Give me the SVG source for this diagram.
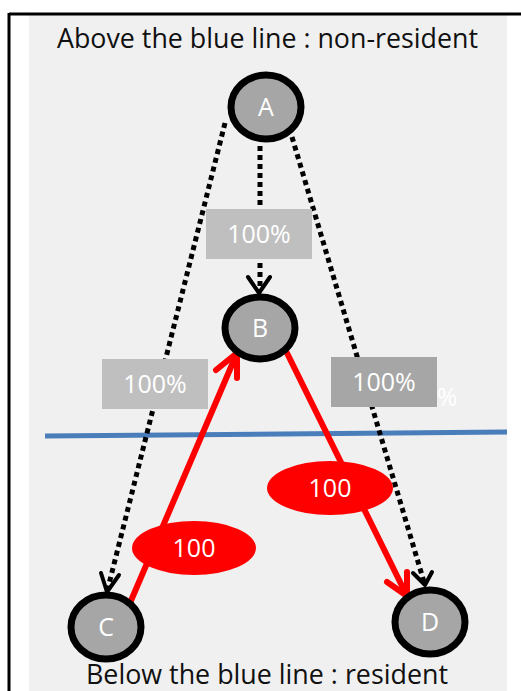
<svg xmlns="http://www.w3.org/2000/svg" width="521" height="691" viewBox="0 0 521 691">
  <style>
    .title { font-family: "Open Sans", "Liberation Sans", sans-serif; font-size: 27px; fill: #111; }
    .node ellipse { fill: #a6a6a6; stroke: #000; stroke-width: 7; }
    .node text { font-family: "Open Sans", "Liberation Sans", sans-serif; font-size: 25px; fill: #fff; text-anchor: middle; }
    .dot { stroke: #000; stroke-width: 5; stroke-dasharray: 5 4; fill: none; }
    .dothead { stroke: #000; stroke-width: 4; fill: none; stroke-linecap: round; stroke-linejoin: round; }
    .flow { stroke: #ff0000; stroke-width: 6; fill: none; stroke-linecap: round; stroke-linejoin: round; }
    .lbl { font-family: "Open Sans", "Liberation Sans", sans-serif; font-size: 25px; fill: #fff; text-anchor: middle; }
  </style>

  <!-- frame and panel -->
  <rect x="0" y="0" width="521" height="691" fill="#fff"/>
  <rect x="29" y="15" width="478" height="676" fill="#f0f0f0"/>
  <line x1="9" y1="14" x2="521" y2="14" stroke="#000" stroke-width="3"/>
  <line x1="9" y1="13" x2="9" y2="691" stroke="#000" stroke-width="3"/>

  <text class="title" x="57" y="48" textLength="421" lengthAdjust="spacingAndGlyphs">Above the blue line : non-resident</text>
  <text class="title" x="86" y="684" textLength="362" lengthAdjust="spacingAndGlyphs">Below the blue line : resident</text>

  <!-- residency boundary -->
  <line x1="45" y1="436" x2="507" y2="432" stroke="#4a7ebb" stroke-width="5"/>

  <g id="connectors">
    <!-- ownership links from A -->
    <line class="dot" x1="260" y1="146" x2="260" y2="290"/>
    <polyline class="dothead" points="248,277 259,293 270,277"/>
    <line class="dot" x1="225" y1="123" x2="108" y2="588"/>
    <polyline class="dothead" points="101,573 107,592 119,575"/>
    <line class="dot" x1="292" y1="137" x2="424" y2="582"/>
    <polyline class="dothead" points="413,573 425,585 432,572"/>

    <rect x="206" y="209" width="106" height="50" fill="#bfbfbf"/>
    <text class="lbl" x="259" y="243">100%</text>
    <rect x="102" y="359" width="106" height="50" fill="#bfbfbf"/>
    <text class="lbl" x="155" y="393">100%</text>
    <text class="lbl" x="447" y="406">%</text>
    <rect x="331" y="357" width="106" height="50" fill="#a6a6a6"/>
    <text class="lbl" x="384" y="391">100%</text>

    <!-- flows -->
    <line class="flow" x1="130" y1="603" x2="237" y2="353"/>
    <polyline class="flow" points="216,370 237,353 237,378"/>
    <line class="flow" x1="287" y1="353" x2="407" y2="596"/>
    <polyline class="flow" points="387,582 407,596 407,572"/>

    <ellipse cx="194" cy="548" rx="62" ry="27" fill="#ff0000"/>
    <text class="lbl" x="194" y="557">100</text>
    <ellipse cx="330" cy="488" rx="63" ry="27" fill="#ff0000"/>
    <text class="lbl" x="330" y="497">100</text>
  </g>

  <g id="A" class="node">
    <ellipse cx="266" cy="107" rx="35" ry="32"/>
    <text x="266" y="116">A</text>
  </g>
  <g id="B" class="node">
    <ellipse cx="260" cy="328" rx="35" ry="31"/>
    <text x="260" y="337">B</text>
  </g>
  <g id="C" class="node">
    <ellipse cx="106" cy="627" rx="35" ry="32"/>
    <text x="106" y="636">C</text>
  </g>
  <g id="D" class="node">
    <ellipse cx="430" cy="622" rx="35" ry="32"/>
    <text x="430" y="631">D</text>
  </g>
</svg>
